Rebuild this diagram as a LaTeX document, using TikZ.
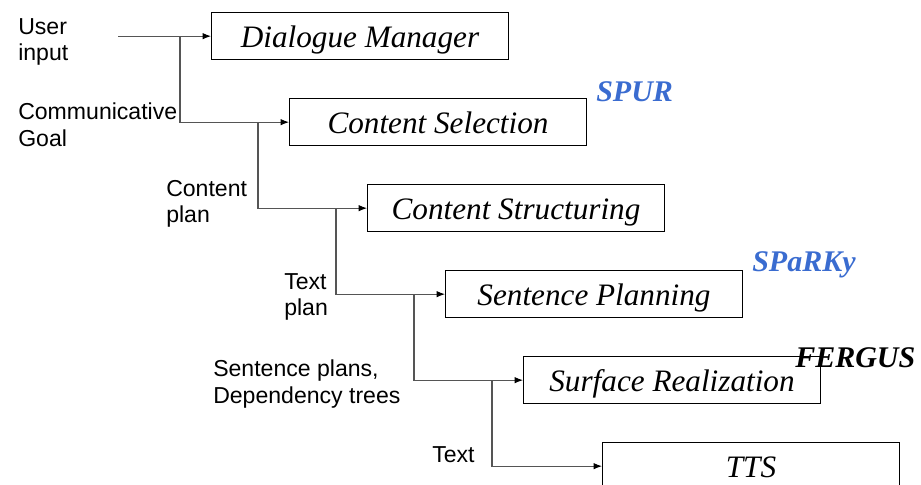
\documentclass[tikz,border=0pt]{standalone}
\usepackage{fontspec}
\setmainfont{Liberation Serif}
\setsansfont{Liberation Sans}
\usetikzlibrary{arrows.meta}
\definecolor{toolblue}{RGB}{58,108,208}
\definecolor{wire}{RGB}{85,85,85}

\begin{document}
\begin{tikzpicture}[x=0.75pt, y=-0.75pt,
	stage/.style={draw, line width=0.75pt, anchor=north west, minimum width=222.75pt, minimum height=35.5pt, inner sep=0pt, text height=17pt, text depth=0pt, font=\fontsize{23.4}{27}\selectfont\itshape},
	lbl/.style={anchor=west, align=left, inner sep=0pt, font=\sffamily\fontsize{17.3}{20}\selectfont},
	tool/.style={anchor=west, inner sep=0pt, font=\fontsize{22.5}{26}\selectfont\bfseries\itshape},
	flow/.style={wire, line width=0.8pt},
	>={Latex[length=2.2mm, width=1.7mm, black]}]
	\useasboundingbox (0,0) rectangle (921,485);
	\node[stage] (dm) at (211,12) {Dialogue Manager};
	\node[stage] (cs) at (289,98) {Content Selection};
	\node[stage] (cst) at (367,184) {Content Structuring};
	\node[stage] (sp) at (445,270) {Sentence Planning};
	\node[stage] (sr) at (523,356) {Surface Realization};
	\node[stage] (tts) at (602,442) {TTS};
	% pipeline wiring
	\coordinate (in) at (118,0 |- dm.west);
	\coordinate (j1) at (180,0 |- dm.west);
	\coordinate (j2) at (258,0 |- cs.west);
	\coordinate (j3) at (336,0 |- cst.west);
	\coordinate (j4) at (414,0 |- sp.west);
	\coordinate (j5) at (492,0 |- sr.west);
	\draw[->, flow] (in) -- (dm.west);
	\draw[->, flow] (j1) |- (cs.west);
	\draw[->, flow] (j2) |- (cst.west);
	\draw[->, flow] (j3) |- (sp.west);
	\draw[->, flow] (j4) |- (sr.west);
	\draw[->, flow] (j5) |- (tts.west);
	\node[lbl] (userin) at (18,42) {User\\input};
	\node[lbl] (goal) at (18,125) {Communicative\\Goal};
	\node[lbl] (cplan) at (166,204) {Content\\plan};
	\node[lbl] (tplan) at (284,297) {Text\\plan};
	\node[lbl] (splans) at (213,384) {Sentence plans,\\Dependency trees};
	\node[lbl] (txt) at (432,455) {Text};
	\node[tool, toolblue] (spur) at (596,92) {SPUR};
	\node[tool, toolblue] (sparky) at (752,265) {SPaRKy};
	\node[tool] (fergus) at (795,358) {FERGUS};
\end{tikzpicture}
\end{document}
